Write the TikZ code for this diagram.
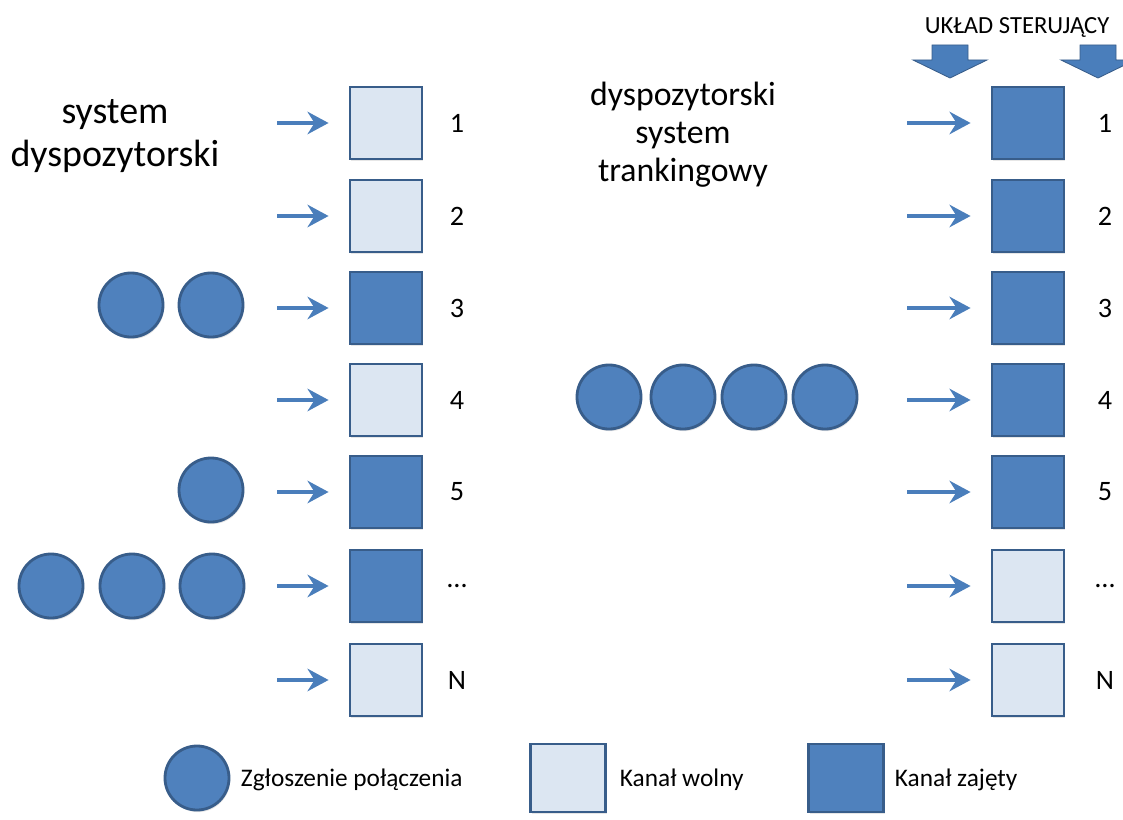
\documentclass[tikz,border=0pt]{standalone}
\usepackage{fontspec}
\setmainfont{Carlito}
\usepackage{xcolor}
\usetikzlibrary{arrows.meta, positioning, shadows}

\definecolor{busyfill}{HTML}{4F81BD}
\definecolor{freefill}{HTML}{DCE6F2}
\definecolor{chanedge}{HTML}{385D8A}
\definecolor{arrowblue}{HTML}{4A7EBB}

\begin{document}
\begin{tikzpicture}[x=0.025cm, y=-0.025cm,
    softshadow/.style={drop shadow={opacity=0.2, shadow xshift=0.8pt, shadow yshift=-1.5pt}},
    chanfree/.style={rectangle, draw=chanedge, fill=freefill, line width=2pt, minimum size=1.8cm, inner sep=0pt, softshadow},
    chanbusy/.style={chanfree, fill=busyfill},
    request/.style={circle, draw=chanedge, fill=busyfill, line width=2pt, minimum size=1.6cm, inner sep=0pt, softshadow},
    feed/.style={draw=arrowblue, line width=2.4pt, shorten >=0.5cm, -{Stealth[length=15pt, width=16pt, inset=5pt]}},
    ctrlarrow/.style={fill=arrowblue, draw=chanedge, line width=0.6pt},
    numlabel/.style={font=\fontsize{20}{24}\selectfont},
    keytext/.style={anchor=west, font=\fontsize{18}{21}\selectfont}]
    \useasboundingbox (0,0) rectangle (1123,820);

    % Titles
    \node[align=center, font=\fontsize{27}{31}\selectfont] (lefttitle) at (115,136) {system\\dyspozytorski};
    \node[align=center, font=\fontsize{24}{27}\selectfont] (righttitle) at (683,135) {dyspozytorski\\system\\trankingowy};
    \node[font=\fontsize{17.5}{20}\selectfont] (control) at (1017,27) {UKŁAD STERUJĄCY};

    % Control arrows
    \filldraw[ctrlarrow] (932,45) -- (968,45) -- (968,60) -- (987,60) -- (950,78) -- (913,60) -- (932,60) -- cycle;
    \filldraw[ctrlarrow] (1080,45) -- (1116,45) -- (1116,60) -- (1135,60) -- (1098,78) -- (1061,60) -- (1080,60) -- cycle;

    % Dispatcher system channels
    \foreach \i/\y/\st/\lab in {1/123/chanfree/1, 2/216/chanfree/2, 3/308/chanbusy/3, 4/400/chanfree/4,
                                5/492/chanbusy/5, 6/586/chanbusy/{\ldots}, 7/680/chanfree/N} {
        \node[\st] (L\i) at (386,\y) {};
        \coordinate (la\i) at (277,\y);
        \draw[feed] (la\i) -- (L\i);
        \node[numlabel] (Ln\i) at (457,\y) {\lab};
    }

    % Trunking system channels
    \foreach \i/\y/\st/\lab in {1/123/chanbusy/1, 2/216/chanbusy/2, 3/308/chanbusy/3, 4/400/chanbusy/4,
                                5/492/chanbusy/5, 6/586/chanfree/{\ldots}, 7/680/chanfree/N} {
        \node[\st] (R\i) at (1028,\y) {};
        \coordinate (ra\i) at (907,\y);
        \draw[feed] (ra\i) -- (R\i);
        \node[numlabel] (Rn\i) at (1105,\y) {\lab};
    }

    % Waiting requests
    \node[request] (q3a) at (131,305) {};
    \node[request] (q3b) at (211,305) {};
    \node[request] (q5a) at (211,490) {};
    \node[request] (q6a) at (51,586) {};
    \node[request] (q6b) at (132,586) {};
    \node[request] (q6c) at (212,586) {};
    \node[request] (t4a) at (609,397) {};
    \node[request] (t4b) at (683,397) {};
    \node[request] (t4c) at (754,397) {};
    \node[request] (t4d) at (825,397) {};

    % Legend
    \node[request] (keyreq) at (197,778) {};
    \node[keytext] (keyreqtext) at (236,780) {Zgłoszenie połączenia};
    \node[chanfree, minimum width=1.875cm, minimum height=1.7cm] (keyfree) at (568,778) {};
    \node[keytext] (keyfreetext) at (615,780) {Kanał wolny};
    \node[chanbusy, minimum width=1.875cm, minimum height=1.7cm] (keybusy) at (846,778) {};
    \node[keytext] (keybusytext) at (890,780) {Kanał zajęty};
\end{tikzpicture}
\end{document}
